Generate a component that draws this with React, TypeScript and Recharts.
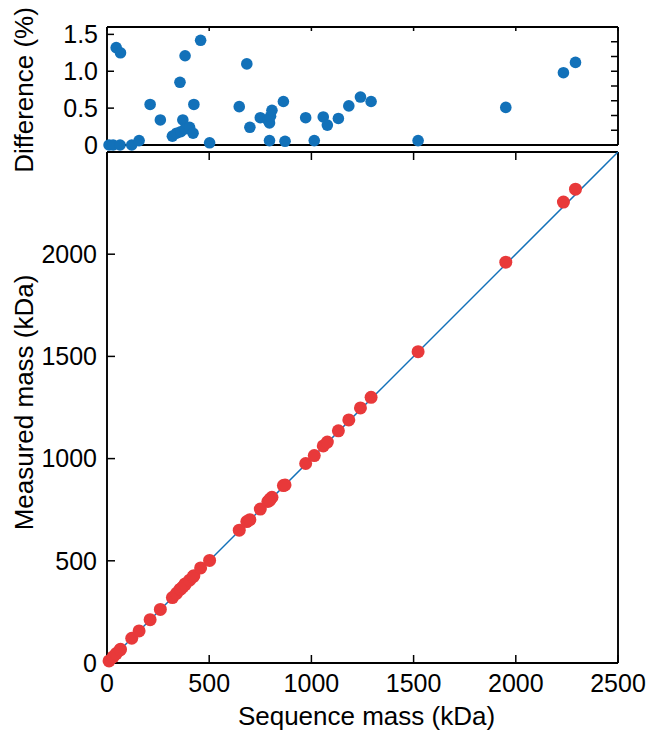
import { Label, Scatter, ScatterChart, XAxis, YAxis } from "recharts";

// sequence mass (kDa), one entry per protein
const seqMass = [
  10, 30, 45, 66, 64, 121, 157, 211, 261, 320, 340, 357, 361, 371, 382, 382, 404, 421, 425, 458, 502,
  647, 684, 699, 750, 787, 795, 800, 807, 795, 863, 871, 972, 1014, 1058, 1078, 1132, 1183, 1240, 1292,
  1522, 1951, 2233, 2292,
];
// difference between measured and sequence mass (%)
const diffPct = [
  0, 0, 1.32, 1.25, 0, 0, 0.06, 0.55, 0.34, 0.12, 0.16, 0.85, 0.18, 0.34, 1.21, 0.22, 0.24, 0.16, 0.55, 1.42, 0.03,
  0.52, 1.1, 0.24, 0.37, 0.34, 0.3, 0.39, 0.47, 0.06, 0.59, 0.05, 0.37, 0.06, 0.38, 0.27, 0.36, 0.53, 0.65, 0.59,
  0.06, 0.51, 0.98, 1.12,
];
// measured mass (kDa)
const measuredMass = [
  10, 30, 46, 67, 64, 121, 157, 212, 262, 320, 341, 360, 362, 372, 387, 383, 405, 422, 427, 465, 502,
  650, 692, 701, 753, 790, 797, 803, 811, 795, 868, 871, 976, 1015, 1062, 1081, 1136, 1189, 1248, 1300,
  1523, 1961, 2255, 2318,
];

const xTicks = [0, 500, 1000, 1500, 2000, 2500];
const diffTicks = [0, 0.5, 1, 1.5];
const diffMinorTicks = [0, 0.2, 0.4, 0.6, 0.8, 1, 1.2, 1.4, 1.6];
const massTicks = [0, 500, 1000, 1500, 2000];
const identityEnds = [0, 2500];

const FONT = "'Liberation Sans', Arial, Helvetica, sans-serif";
const BLUE = "#1271b9";
const RED = "#e8393a";
const AXIS = { stroke: "#000", strokeWidth: 1.9 };
const TICK_LINE = { stroke: "#000", strokeWidth: 1.5 };
const TICK_TEXT = { fontSize: 25, fill: "#000", fontFamily: FONT };

const diffData = seqMass.map((x, i) => ({ x, y: diffPct[i] }));
const massData = seqMass.map((x, i) => ({ x, y: measuredMass[i] }));
const identityData = identityEnds.map((v) => ({ x: v, y: v }));

const blank = () => "";
const fmtDiff = (v: number) => (v === 0 ? "0" : v.toFixed(1));

const dot = (fill: string, r: number) => (p: any) => <circle cx={p.cx} cy={p.cy} r={r} fill={fill} />;

const yTitle = (text: string, x: number, shift: number) => (props: any) => {
  const vb = props.viewBox;
  const cy = vb.y + vb.height / 2 + shift;
  return (
    <text
      x={x}
      y={cy}
      transform={`rotate(-90, ${x}, ${cy})`}
      textAnchor="middle"
      dominantBaseline="central"
      fontSize={26}
      fontFamily={FONT}
      fill="#000"
    >
      {text}
    </text>
  );
};

function DifferencePanel() {
  return (
    <ScatterChart width={655} height={150} margin={{ top: 26, right: 36, bottom: 4, left: 0 }}>
      <XAxis xAxisId="b" type="number" dataKey="x" domain={[0, 2500]} ticks={xTicks} height={1}
        axisLine={AXIS} tickLine={false} tick={false} />
      <XAxis xAxisId="t" orientation="top" type="number" dataKey="x" domain={[0, 2500]} ticks={xTicks} height={1}
        interval={0} axisLine={AXIS} tickLine={TICK_LINE} tickSize={-4} tickFormatter={blank} />
      <YAxis yAxisId="l" type="number" dataKey="y" domain={[0, 1.6]} ticks={diffTicks} width={107} interval={0}
        axisLine={AXIS} tickLine={TICK_LINE} tickSize={-7} tickMargin={16} tick={TICK_TEXT} tickFormatter={fmtDiff}>
        <Label content={yTitle("Difference (%)", 24, 4)} />
      </YAxis>
      <YAxis yAxisId="r" orientation="right" type="number" dataKey="y" domain={[0, 1.6]} ticks={diffMinorTicks}
        width={1} interval={0} axisLine={AXIS} tickLine={TICK_LINE} tickSize={-7} tickFormatter={blank} />
      <Scatter xAxisId="t" yAxisId="r" data={diffData} shape={() => <g />} isAnimationActive={false} />
      <Scatter xAxisId="b" yAxisId="l" data={diffData} shape={dot(BLUE, 5.8)} isAnimationActive={false} />
    </ScatterChart>
  );
}

function MassPanel() {
  return (
    <ScatterChart width={655} height={735} margin={{ top: 151, right: 36, bottom: 0, left: 0 }}>
      <XAxis xAxisId="b" type="number" dataKey="x" domain={[0, 2500]} ticks={xTicks} height={72} interval={0}
        axisLine={AXIS} tickLine={TICK_LINE} tickSize={-8} tickMargin={19} tick={TICK_TEXT}>
        <Label value="Sequence mass (kDa)" position="insideBottom" offset={10} dx={4} fontSize={26} fontFamily={FONT} fill="#000" />
      </XAxis>
      <XAxis xAxisId="t" orientation="top" type="number" dataKey="x" domain={[0, 2500]} ticks={xTicks} height={1}
        interval={0} axisLine={AXIS} tickLine={TICK_LINE} tickSize={-8} tickFormatter={blank} />
      <YAxis yAxisId="l" type="number" dataKey="y" domain={[0, 2500]} ticks={massTicks} width={107} interval={0}
        axisLine={AXIS} tickLine={TICK_LINE} tickSize={-8} tickMargin={18} tick={TICK_TEXT}>
        <Label content={yTitle("Measured mass (kDa)", 24, -5)} />
      </YAxis>
      <YAxis yAxisId="r" orientation="right" type="number" dataKey="y" domain={[0, 2500]} width={1}
        axisLine={AXIS} tickLine={false} tick={false} />
      <Scatter xAxisId="t" yAxisId="r" data={identityData} shape={() => <g />} isAnimationActive={false} />
      <Scatter xAxisId="b" yAxisId="l" data={identityData} line={{ stroke: BLUE, strokeWidth: 1.5 }}
        shape={() => <g />} isAnimationActive={false} />
      <Scatter xAxisId="b" yAxisId="l" data={massData} shape={dot(RED, 6.5)} isAnimationActive={false} />
    </ScatterChart>
  );
}

export default function App() {
  return (
    <div className="fig" style={{ position: "absolute", left: 0, top: 0, width: 655, height: 735, background: "#fff" }}>
      <style>{".fig svg { overflow: visible; }"}</style>
      <div style={{ position: "absolute", left: 0, top: 0 }}>
        <MassPanel />
      </div>
      <div style={{ position: "absolute", left: 0, top: 0 }}>
        <DifferencePanel />
      </div>
    </div>
  );
}
